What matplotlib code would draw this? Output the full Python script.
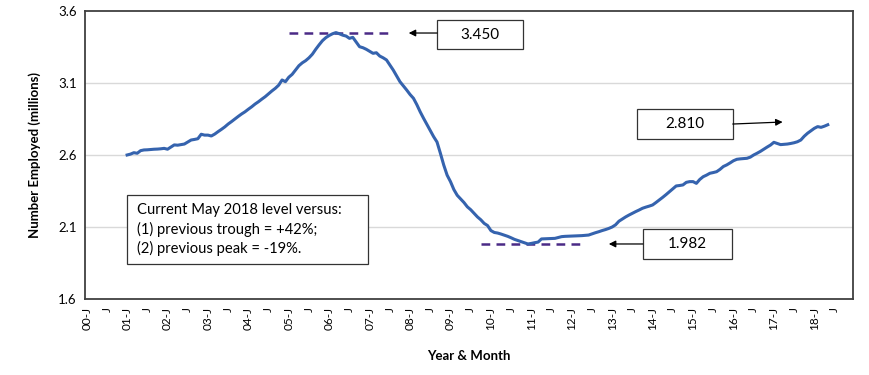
import matplotlib
matplotlib.use("Agg")
import matplotlib.pyplot as plt
from matplotlib.patches import Rectangle
import numpy as np

# Monthly values (millions), Jan 2001 .. May 2018
first_year = 2001
values_2001 = [2.600, 2.606, 2.616, 2.612, 2.630, 2.635, 2.636, 2.638, 2.640, 2.641, 2.643, 2.646]
values_2002 = [2.640, 2.655, 2.670, 2.668, 2.672, 2.676, 2.690, 2.704, 2.708, 2.713, 2.744, 2.738]
values_2003 = [2.738, 2.732, 2.745, 2.762, 2.778, 2.795, 2.815, 2.832, 2.850, 2.868, 2.885, 2.900]
values_2004 = [2.918, 2.935, 2.954, 2.970, 2.988, 3.005, 3.025, 3.045, 3.063, 3.085, 3.121, 3.109]
values_2005 = [3.140, 3.160, 3.190, 3.220, 3.240, 3.255, 3.275, 3.300, 3.334, 3.365, 3.394, 3.415]
values_2006 = [3.430, 3.442, 3.450, 3.442, 3.432, 3.426, 3.410, 3.417, 3.385, 3.352, 3.345, 3.334]
values_2007 = [3.320, 3.306, 3.310, 3.287, 3.275, 3.260, 3.225, 3.190, 3.150, 3.109, 3.080, 3.051]
values_2008 = [3.020, 2.994, 2.950, 2.900, 2.855, 2.812, 2.770, 2.727, 2.690, 2.612, 2.530, 2.460]
values_2009 = [2.415, 2.360, 2.320, 2.295, 2.270, 2.240, 2.220, 2.195, 2.170, 2.150, 2.125, 2.110]
values_2010 = [2.075, 2.062, 2.058, 2.051, 2.043, 2.035, 2.025, 2.014, 2.006, 1.998, 1.990, 1.982]
values_2011 = [1.986, 1.991, 1.995, 2.017, 2.018, 2.019, 2.020, 2.021, 2.027, 2.033, 2.035, 2.036]
values_2012 = [2.037, 2.038, 2.039, 2.040, 2.042, 2.044, 2.052, 2.060, 2.067, 2.075, 2.082, 2.090]
values_2013 = [2.100, 2.115, 2.140, 2.155, 2.170, 2.183, 2.195, 2.207, 2.218, 2.230, 2.238, 2.245]
values_2014 = [2.253, 2.270, 2.288, 2.306, 2.325, 2.345, 2.365, 2.385, 2.388, 2.392, 2.410, 2.415]
values_2015 = [2.415, 2.403, 2.430, 2.449, 2.460, 2.473, 2.478, 2.484, 2.500, 2.520, 2.531, 2.545]
values_2016 = [2.560, 2.570, 2.573, 2.575, 2.577, 2.585, 2.600, 2.612, 2.625, 2.640, 2.655, 2.669]
values_2017 = [2.688, 2.680, 2.672, 2.674, 2.676, 2.680, 2.685, 2.692, 2.704, 2.730, 2.751, 2.768]
values_2018 = [2.785, 2.797, 2.792, 2.800, 2.810]

# Axis categories: Jan 2000 .. Dec 2018, labelled every 6 months
axis_years = list(range(2000, 2019))
tick_labels = []
for yr in axis_years:
    tick_labels += [f"{yr % 100:02d}-J", "J"]

y_ticks = [1.6, 2.1, 2.6, 3.1, 3.6]

peak_value = 3.450
trough_value = 1.982
latest_value = 2.810
note = ("Current May 2018 level versus:\n"
        "(1) previous trough = +42%;\n"
        "(2) previous peak = -19%.")

series = np.array(values_2001 + values_2002 + values_2003 + values_2004 + values_2005
                  + values_2006 + values_2007 + values_2008 + values_2009 + values_2010
                  + values_2011 + values_2012 + values_2013 + values_2014 + values_2015
                  + values_2016 + values_2017 + values_2018)
n_months = 12 * len(axis_years)
months = np.arange(len(series)) + 12 * (first_year - axis_years[0])

fig = plt.figure(figsize=(8.7, 3.75), dpi=100)
ax = fig.add_axes([0.0977, 0.2027, 0.8828, 0.768])

ax.plot(months, series, color="#3563AE", lw=2.2, zorder=3)

# grid and frame
ax.set_ylim(1.6, 3.6)
ax.set_yticks(y_ticks)
ax.set_yticklabels([f"{t:.1f}" for t in y_ticks], fontsize=9.5, family="Lato")
for t in y_ticks[1:-1]:
    ax.axhline(t, color="#d9d9d9", lw=1.0, zorder=1)
for s in ax.spines.values():
    s.set_color("#404040")
    s.set_linewidth(1.3)

ax.set_xlim(-0.5, n_months - 0.5)
ax.set_xticks(np.arange(0, n_months, 6))
ax.set_xticklabels(tick_labels, rotation=90, fontsize=8.5, family="Lato")
ax.tick_params(axis="both", length=0)
ax.tick_params(axis="x", pad=6)
ax.tick_params(axis="y", pad=6)

ax.set_ylabel("Number Employed (millions)", fontsize=9.5, fontweight="bold",
              family="Lato", labelpad=12)
ax.set_xlabel("Year & Month", fontsize=9.5, fontweight="bold", family="Lato",
              labelpad=14)

# peak / trough markers
purple = "#4B2A86"
ax.plot([60, 91], [peak_value, peak_value], color=purple, lw=1.8, ls=(0, (3.5, 2.5)), zorder=2)
ax.plot([117, 148], [trough_value, trough_value], color=purple, lw=1.8, ls=(0, (3.5, 2.5)), zorder=2)

arrow = dict(arrowstyle="-|>", color="black", lw=0.9, mutation_scale=10,
             shrinkA=0, shrinkB=0)


def label_box(x0, x1, y0, y1, text, tail, tip):
    """Boxed value label with an arrow going from tail to tip."""
    ax.add_patch(Rectangle((x0, y0), x1 - x0, y1 - y0, fc="white", ec="#333333",
                           lw=0.9, zorder=4))
    ax.text((x0 + x1) / 2, (y0 + y1) / 2, text, ha="center", va="center",
            fontsize=11, family="Lato", zorder=5)
    ax.annotate("", xy=tip, xytext=tail, arrowprops=arrow, zorder=5)


label_box(104, 129.4, 3.336, 3.537, f"{peak_value:.3f}", (104, 3.447), (95.6, 3.447))
label_box(165.1, 191.5, 1.878, 2.086, f"{trough_value:.3f}", (165.1, trough_value), (155, trough_value))
label_box(163.3, 191.8, 2.711, 2.919, f"{latest_value:.3f}", (191.8, 2.815), (206.6, 2.829))

ax.add_patch(Rectangle((12, 1.843), 71.5, 0.479, fc="white", ec="#333333", lw=0.9, zorder=4))
ax.text(15, 2.082, note, ha="left", va="center", fontsize=10.6, family="Lato",
        linespacing=1.4, zorder=5)

fig.savefig("out.png", dpi=100)
